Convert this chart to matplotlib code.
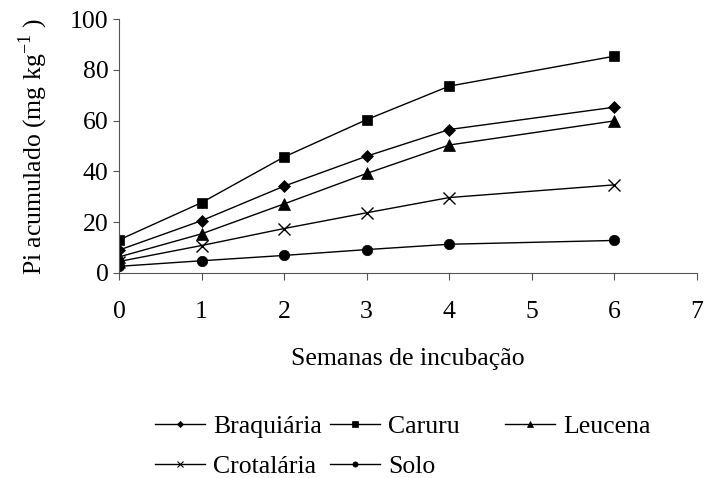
import matplotlib.pyplot as plt
from matplotlib.lines import Line2D

plt.rcParams['font.family'] = ['Liberation Serif', 'DejaVu Serif']
plt.rcParams['mathtext.fontset'] = 'custom'
plt.rcParams['mathtext.rm'] = 'Liberation Serif'

semanas = [0, 1, 2, 3, 4, 6]
braquiaria = [9.0, 20.6, 34.2, 46.0, 56.5, 65.3]
caruru = [13.0, 27.7, 45.7, 60.4, 73.6, 85.4]
leucena = [6.3, 15.4, 27.2, 39.2, 50.4, 59.9]
crotalaria = [4.5, 10.8, 17.5, 23.7, 29.7, 34.7]
solo = [2.6, 4.8, 6.9, 9.2, 11.3, 12.8]

# nome, valores, marcador, tamanho
series = [
    ('Braquiária', braquiaria, 'D', 6.3),
    ('Caruru', caruru, 's', 7.3),
    ('Leucena', leucena, '^', 8.5),
    ('Crotalária', crotalaria, 'x', 8),
    ('Solo', solo, 'o', 7.5),
]

fig = plt.figure(figsize=(7.04, 4.78), dpi=100)
ax = fig.add_axes([0.169, 0.429, 0.821, 0.531])

for nome, vals, mk, ms in series:
    ax.plot(semanas, vals, color='black', lw=1, marker=mk, markersize=ms,
            markeredgewidth=1 if mk == 'x' else 0.5, label=nome)

ax.set_xlim(0, 7)
ax.set_ylim(0, 100)
ax.set_xticks(range(0, 8))
ax.set_yticks(range(0, 101, 20))
ax.spines['top'].set_visible(False)
ax.spines['right'].set_visible(False)
ax.spines['left'].set_color('#555555')
ax.spines['bottom'].set_color('#555555')
ax.tick_params(axis='both', labelsize=18.5, direction='out', color='#555555')
ax.tick_params(axis='x', length=5, pad=15)
ax.tick_params(axis='y', length=4.5, pad=3)

ax.set_xlabel('Semanas de incubação', fontsize=18.5, labelpad=18)
ax.set_ylabel('Pi acumulado (mg kg$^{\\mathregular{-1}}$ )', fontsize=18.5,
              labelpad=14)

# legenda em tres colunas, montadas separadamente
colunas = [([0, 3], 155), ([1, 4], 330), ([2], 505)]
for idx, xpx in colunas:
    hs = [Line2D([0], [0], color='black', lw=1, marker=series[i][2],
                 markersize=series[i][3] * 0.5,
                 markeredgewidth=0.8 if series[i][2] == 'x' else 0.5)
          for i in idx]
    fig.legend(hs, [series[i][0] for i in idx], frameon=False,
               loc='upper left', bbox_to_anchor=(xpx / 704, 1 - 415 / 478),
               fontsize=18.5, handlelength=1.95, handletextpad=0.3,
               labelspacing=0.65, borderpad=0, borderaxespad=0)

fig.savefig('out.png', dpi=100)
